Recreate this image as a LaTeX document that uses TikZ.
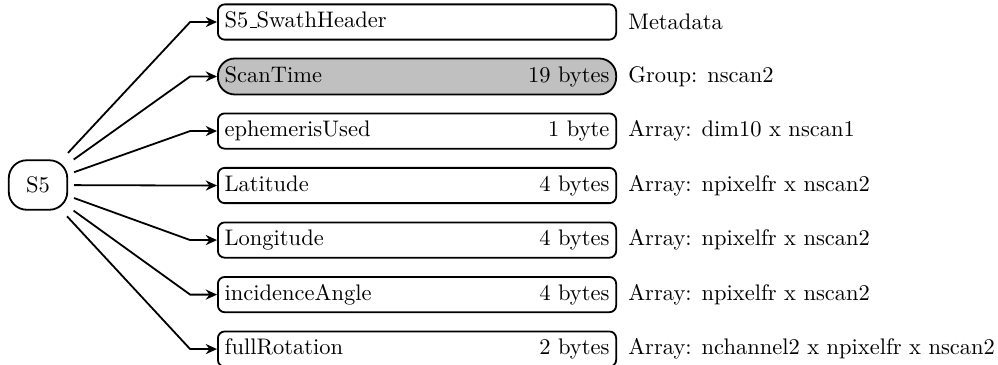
\documentclass[tikz,border=0pt]{standalone}
\usepackage{tikz}
\usetikzlibrary{positioning,arrows.meta,calc}
\definecolor{groupgray}{HTML}{C0C0C0}
\newcommand{\lowbar}{\leavevmode\kern.06em\vbox{\hrule width.3em}}

\tikzset{
  rootbox/.style={draw, thick, rounded corners=8pt, minimum width=26pt, minimum height=22pt},
  fieldbox/.style={draw, thick, rounded corners=3pt, anchor=west, text width=171pt, inner xsep=3pt, text height=7pt, text depth=2pt},
  groupbox/.style={fieldbox, fill=groupgray, rounded corners=7.5pt, minimum height=16pt},
  link/.style={thick, -{Stealth[length=5pt,width=4.5pt]}}
}

\begin{document}
\begin{tikzpicture}
        \useasboundingbox (0,0) rectangle (15.59,-5.69);
        \node[rootbox] (S5) at (0.594,-2.89) {S5};

        % one box per field of the swath
        \node[fieldbox] (f1) at (3.39,-0.344) {S5\lowbar SwathHeader};
        \node[groupbox] (f2) at (3.39,-1.195) {ScanTime\hfill 19 bytes};
        \node[fieldbox] (f3) at (3.39,-2.047) {ephemerisUsed\hfill 1 byte};
        \node[fieldbox] (f4) at (3.39,-2.898) {Latitude\hfill 4 bytes};
        \node[fieldbox] (f5) at (3.39,-3.750) {Longitude\hfill 4 bytes};
        \node[fieldbox] (f6) at (3.39,-4.602) {incidenceAngle\hfill 4 bytes};
        \node[fieldbox] (f7) at (3.39,-5.453) {fullRotation\hfill 2 bytes};

        \foreach \i/\s/\t in {1/19.5/Metadata, 2/19.5/Group: nscan2, 3/17/Array: dim10 x nscan1, 4/16/Array: npixelfr x nscan2, 5/17/Array: npixelfr x nscan2, 6/19.5/Array: npixelfr x nscan2, 7/19/Array: nchannel2 x npixelfr x nscan2} {
            \coordinate (k\i) at (2.97, 0 |- f\i.west);
            \draw[link, shorten <=\s pt] (S5.center) -- (k\i) -- (f\i.west);
            \node[right=1.5pt of f\i] (d\i) {\t};
        }
    \end{tikzpicture}
\end{document}
